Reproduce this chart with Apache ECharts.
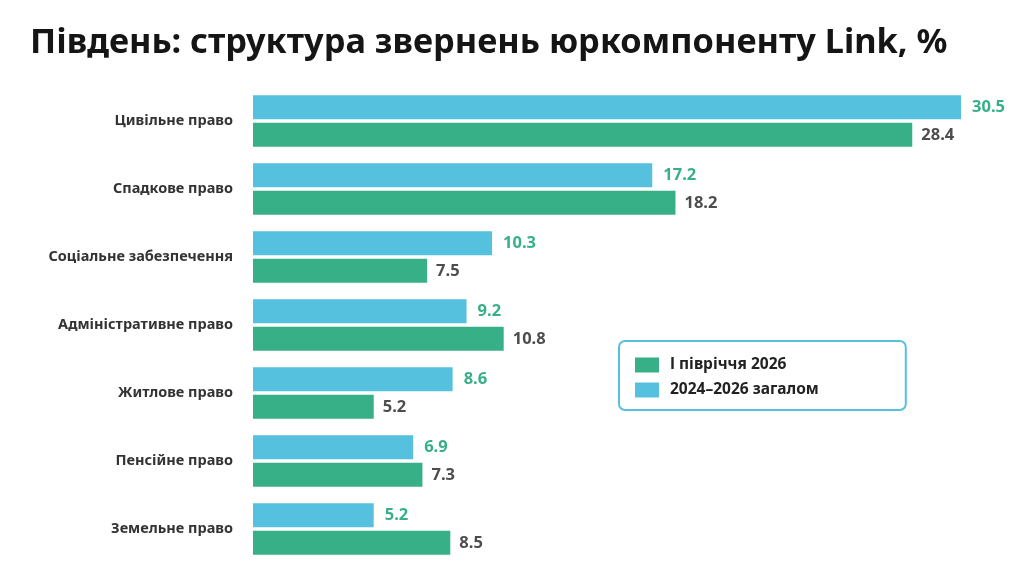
<!DOCTYPE html>
<html><head><meta charset="utf-8">
<script src="https://cdn.jsdelivr.net/npm/echarts@6/dist/echarts.min.js"></script>
<style>html,body{margin:0;padding:0;background:#fff}#c{width:1024px;height:579px}</style>
</head><body><div id="c"></div>
<script>
const titleText = 'Південь: структура звернень юркомпоненту Link, %';
const categories = ['Цивільне право','Спадкове право','Соціальне забезпечення','Адміністративне право','Житлове право','Пенсійне право','Земельне право'];
const seriesTotalName = '2024–2026 загалом';
const seriesTotal = [30.5, 17.2, 10.3, 9.2, 8.6, 6.9, 5.2];
const seriesH1Name = 'І півріччя 2026';
const seriesH1 = [28.4, 18.2, 7.5, 10.8, 5.2, 7.3, 8.5];

const FONT = 'Noto Sans';
const chart = echarts.init(document.getElementById('c'));
chart.setOption({
  backgroundColor: '#fff',
  animation: false,
  title: {
    text: titleText, left: 25, top: 21,
    textStyle: { fontFamily: FONT, fontWeight: 'bold', fontSize: 34.3, color: '#151515' }
  },
  legend: {
    data: [seriesH1Name, seriesTotalName],
    orient: 'vertical', left: 619, top: 341,
    padding: [16, 87, 12, 16],
    itemWidth: 24, itemHeight: 15, itemGap: 9,
    borderColor: '#56c1df', borderWidth: 2, borderRadius: 6,
    icon: 'rect',
    textStyle: { fontFamily: FONT, fontWeight: 'bold', fontSize: 15.5, color: '#222', padding: [0, 0, 0, 6] }
  },
  grid: { left: 253, top: 87, width: 708, height: 476, containLabel: false },
  xAxis: { type: 'value', min: 0, max: 30.5, show: false },
  yAxis: {
    type: 'category', data: categories, inverse: true,
    axisLine: { show: false }, axisTick: { show: false },
    axisLabel: { margin: 20, fontFamily: FONT, fontWeight: 'bold', fontSize: 14.5, color: '#333' }
  },
  series: [
    {
      name: seriesTotalName, type: 'bar', data: seriesTotal,
      barWidth: 24, barGap: '15%',
      itemStyle: { color: '#56c1df' },
      label: { show: true, position: 'right', distance: 11, fontFamily: FONT, fontWeight: 'bold', fontSize: 16.5, color: '#37b088' }
    },
    {
      name: seriesH1Name, type: 'bar', data: seriesH1,
      barWidth: 24,
      itemStyle: { color: '#37b088' },
      label: { show: true, position: 'right', distance: 9, fontFamily: FONT, fontWeight: 'bold', fontSize: 16.5, color: '#4d4d4d' }
    }
  ]
});
</script></body></html>
